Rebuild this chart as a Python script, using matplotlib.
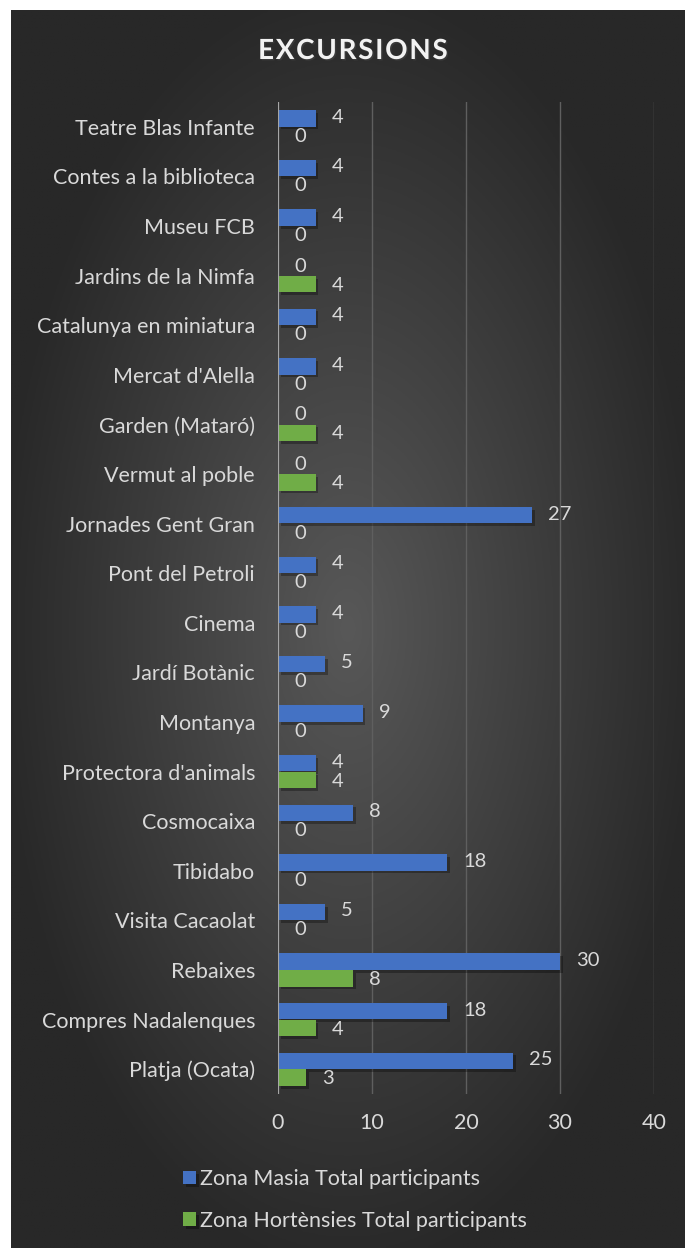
import matplotlib.pyplot as plt
import matplotlib.patheffects as pe
import numpy as np

# dades (de baix a dalt, com al gràfic)
activitats = ['Platja (Ocata)', 'Compres Nadalenques', 'Rebaixes', 'Visita Cacaolat',
              'Tibidabo', 'Cosmocaixa', "Protectora d'animals", 'Montanya',
              'Jardí Botànic', 'Cinema', 'Pont del Petroli', 'Jornades Gent Gran',
              'Vermut al poble', 'Garden (Mataró)', "Mercat d'Alella",
              'Catalunya en miniatura', 'Jardins de la Nimfa', 'Museu FCB',
              'Contes a la biblioteca', 'Teatre Blas Infante']
masia = [25, 18, 30, 5, 18, 8, 4, 9, 5, 4, 4, 27, 0, 0, 4, 4, 0, 4, 4, 4]
hortensies = [3, 4, 8, 0, 0, 0, 4, 0, 0, 0, 0, 0, 4, 4, 0, 0, 4, 0, 0, 0]
xticks = [0, 10, 20, 30, 40]

plt.rcParams['font.family'] = ['Lato', 'DejaVu Sans']
txt = '#d9d9d9'
fs = 15.5

W, H = 685, 1248
fig = plt.figure(figsize=(W / 100, H / 100), dpi=100, facecolor='white')

# fons amb degradat radial
bg = fig.add_axes([11 / W, 0, 1 - 11 / W, 1 - 10 / H])
yy, xx = np.mgrid[0:1:400j, 0:1:250j]
r = np.sqrt(((xx - 0.5) / 0.75) ** 2 + ((yy - 0.5) / 0.75) ** 2)
r = np.clip(r / 0.7, 0, 1)
c0, c1 = np.array([0x58, 0x58, 0x58]) / 255, np.array([0x28, 0x28, 0x28]) / 255
img = c0[None, None, :] * (1 - r[..., None]) + c1[None, None, :] * r[..., None]
bg.imshow(img, aspect='auto', extent=[0, 1, 0, 1])
bg.axis('off')

ax = fig.add_axes([278 / W, 1 - 1094 / H, (654 - 278) / W, (1094 - 102) / H])
ax.patch.set_alpha(0)

y = np.arange(len(activitats))
h = 0.33
shadow = [pe.SimplePatchShadow(offset=(2, -2), alpha=0.3, shadow_rgbFace='black'), pe.Normal()]
b1 = ax.barh(y + h / 2 + 0.005, masia, height=h, color='#4472C4', label='Zona Masia Total participants')
b2 = ax.barh(y - h / 2 - 0.005, hortensies, height=h, color='#70AD47', label='Zona Hortènsies Total participants')
for b in list(b1) + list(b2):
    b.set_path_effects(shadow)

for bars, vals, dy in [(b1, masia, 1), (b2, hortensies, -1)]:
    for b, v in zip(bars, vals):
        ax.annotate(str(v), (v, b.get_y() + b.get_height() / 2), xytext=(16, dy),
                    textcoords='offset pixels', ha='left', va='center',
                    color=txt, fontsize=14.5)

ax.set_xlim(0, 40)
ax.set_ylim(-0.5, len(activitats) - 0.5)
ax.set_xticks(xticks)
ax.set_yticks(y)
ax.set_yticklabels(activitats)
ax.tick_params(axis='both', length=0, colors=txt, labelsize=fs)
ax.tick_params(axis='y', pad=16.5)
ax.tick_params(axis='x', pad=14)
ax.grid(axis='x', color='#5f5f5f', linewidth=1)
ax.set_axisbelow(True)
for s in ax.spines.values():
    s.set_visible(False)
ax.axvline(0, color='#a6a6a6', linewidth=1.5, zorder=1)

fig.text(353 / W, 1 - 51 / H, 'E X C U R S I O N S'.replace(' ', '\u200a'), ha='center', va='center',
         color='#f2f2f2', fontsize=20, fontweight='bold',
         path_effects=[pe.withSimplePatchShadow(offset=(1, -1), alpha=0.5)])

leg = fig.legend(handles=[b1, b2], loc='center', bbox_to_anchor=(355 / W, 1 - 1200 / H),
                 ncol=1, frameon=False, fontsize=fs, labelcolor=txt,
                 handlelength=0.6, handleheight=0.6, handletextpad=0.2, labelspacing=1.0)

fig.savefig('out.png', dpi=100, facecolor='white')
